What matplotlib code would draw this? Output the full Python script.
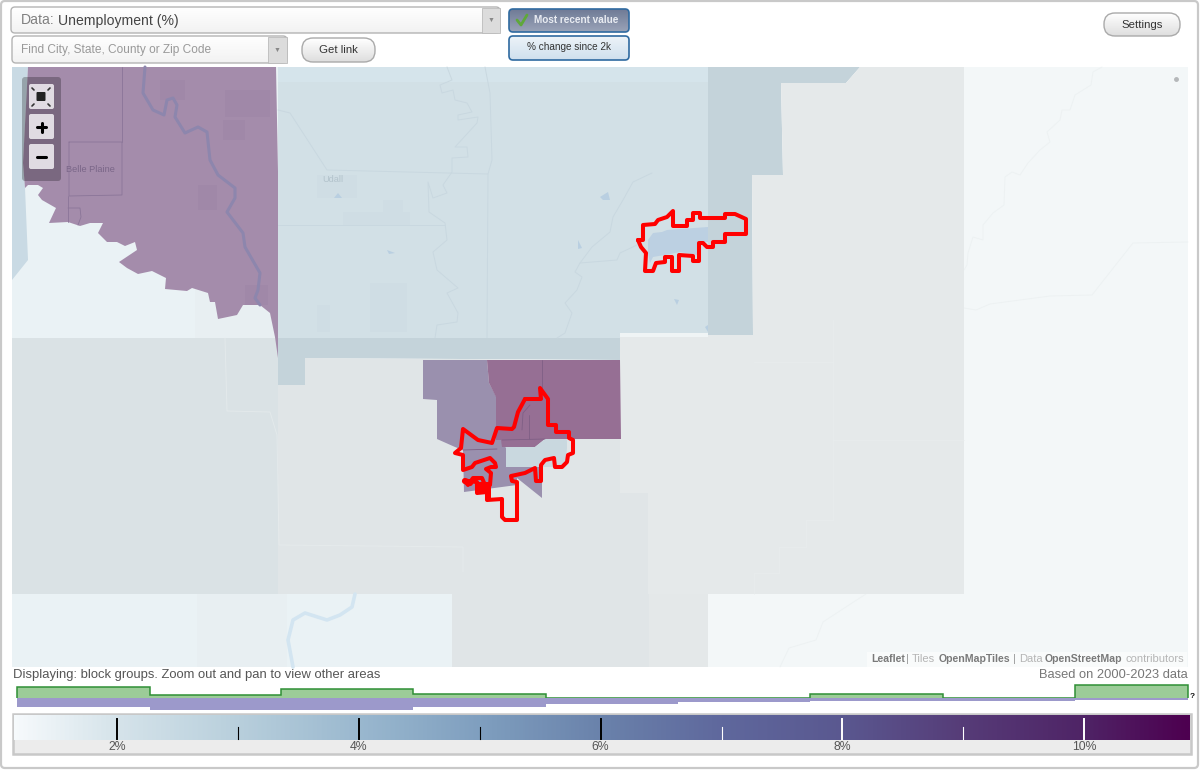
import numpy as np
import matplotlib
matplotlib.use('Agg')
import matplotlib.pyplot as plt
from matplotlib.colors import LinearSegmentedColormap
from matplotlib.patches import FancyBboxPatch, Rectangle

plt.rcParams['font.family'] = ['Liberation Sans', 'DejaVu Sans']

# histogram under the map, and the colour scale (values in %)
bin_edges = [1.17, 2.27, 3.36, 4.45, 5.55, 6.64, 7.73, 8.83, 9.92, 10.86]
green_vals = [11.3, 3.3, 9.3, 3.7, 0.0, 0.3, 3.7, 0.3, 12.7]
purple_vals = [9.0, 12.0, 12.0, 9.0, 5.5, 4.0, 3.3, 3.0, 1.7]
major_ticks = [2, 4, 6, 8, 10]
major_labels = ['2%', '4%', '6%', '8%', '10%']
minor_ticks = [3, 5, 7, 9]
scale_stops = [1.15, 2, 3, 4, 5, 6, 7, 8, 9, 10, 10.87]
scale_colors = ['#f6fafc', '#d5e3ea', '#b8cfdc', '#9ab8cf', '#7f9fbf', '#6a82ab',
                '#5f689d', '#5a5890', '#563c78', '#4f2466', '#4d0050']

# map areas
left_water = [(12,67),(28,67),(23,163),(25,188),(28,260),(12,280)]
purple_area = [(28,67),(276,67),(278,172),(278,313),(278,358),(275,337),(270,313),(260,305),(243,305),
               (237,315),(218,319),(215,302),(210,302),(208,293),(192,288),(187,291),(165,289),(166,278),
               (152,271),(138,274),(127,268),(119,262),(137,250),(135,242),(125,246),(117,242),(107,242),
               (98,233),(103,223),(90,223),(80,226),(68,222),(49,223),(56,208),(42,200),(38,195),(43,188),
               (38,185),(28,185),(25,188),(23,163)]
blue_area = [(278,82),(708,82),(708,338),(278,338)]
blue_top = [(278,67),(708,67),(708,82),(278,82)]
blue_right = [(708,67),(860,67),(846,83),(781,83),(783,175),(752,175),(753,335),(708,335)]
blue_band = [(278,338),(620,338),(620,360),(305,358),(305,385),(278,385)]
grey_left = [(12,338),(278,338),(278,594),(12,594)]
grey_mid = [(278,385),(305,385),(305,358),(620,360),(620,493),(648,493),(648,594),(278,594)]
grey_right = [(620,335),(753,335),(752,175),(783,175),(781,83),(846,83),(860,67),(964,67),(964,594),
              (648,594),(648,493),(620,493)]
grey_bottom = [(452,594),(649,594),(649,667),(452,667)]
grey_bottom2 = [(649,594),(708,594),(708,667),(649,667)]
white_strip = [(620,333),(708,333),(708,337),(620,337)]
right_land = [(964,67),(1188,67),(1188,667),(708,667),(708,594),(964,594)]
town_purple = [(423,360),(487,360),(489,383),(497,398),(501,440),(506,448),(506,467),(542,467),(542,498),
               (517,478),(517,485),(464,492),(463,450),(455,447),(437,439),(437,400),(423,399)]
town_dark = [(487,360),(620,360),(621,439),(545,439),(535,447),(502,447),(501,440),(496,440),(496,397),(489,383)]
town_light = [(506,447),(535,447),(545,439),(567,439),(567,448),(565,467),(506,467)]
lake = [(648,240),(653,233),(662,232),(667,230),(708,227),(708,242),(698,242),(698,255),(680,252),(670,254),
        (653,257),(650,263),(648,253)]
ponds = [[(600,197),(608,192),(610,200),(603,200)], [(578,240),(582,248),(578,249)],
         [(674,299),(679,300),(677,305)], [(387,250),(395,253),(389,254)],
         [(338,193),(342,198),(334,198)], [(705,327),(708,325),(708,332)]]
blue_blocks = [[(370,283),(407,283),(407,332),(370,332)], [(343,212),(410,212),(410,225),(343,225)],
               [(383,200),(403,200),(403,212),(383,212)], [(317,175),(357,175),(357,198),(317,198)],
               [(317,305),(330,305),(330,332),(317,332)]]
purple_blocks = [[(198,185),(217,185),(217,210),(198,210)], [(223,120),(245,120),(245,140),(223,140)],
                 [(225,90),(270,90),(270,117),(225,117)], [(160,80),(185,80),(185,100),(160,100)],
                 [(245,285),(268,285),(268,305),(245,305)]]

# rivers and roads
purple_river = [(145,67),(143,93),(153,110),(164,115),(167,100),(173,98),(177,105),(175,117),(185,133),(198,127),
                (207,132),(210,160),(218,175),(235,188),(235,198),(227,212),(243,233),(245,247),(260,273),
                (258,290),(255,298),(260,305)]
south_river = [(355,594),(352,607),(340,615),(327,620),(305,613),(293,620),(288,640),(293,667)]
blue_lines = [[(278,110),(290,113),(303,133),(327,170),(488,174)],
              [(485,67),(490,93),(492,160),(488,174),(487,338)],
              [(278,225),(445,225)],
              [(447,67),(452,80),(440,85),(442,93),(453,90),(455,100),(467,103),(472,112),(458,115),(458,120),
               (478,117),(477,123),(455,147),(467,147),(468,157),(452,158),(452,172),(443,185),(447,193),(433,198),
               (428,182),(429,212),(445,223),(447,240),(433,252),(437,270),(458,288),(447,293),(458,313),(457,322),
               (437,325),(435,338)],
              [(652,173),(633,182),(623,200),(613,217),(610,232),(592,247),(580,263),(575,272),(582,277),(577,290),
               (565,303),(572,313),(565,333),(557,338)],
              [(637,245),(620,253),(617,260),(580,263)]]
pale_lines = [[(1102,67),(1093,72),(1091,85),(1075,95),(1070,110),(1062,110),(1060,120),(1047,132),(1050,142),
               (1040,150),(1028,163),(1020,175),(1012,172),(1005,177),(1004,205),(993,213),(983,225),(983,240),
               (973,237),(968,253),(967,265),(964,270)],
              [(964,308),(976,310),(990,304),(1050,296),(1092,295),(1133,243),(1188,242)],
              [(866,594),(852,603),(823,622),(816,640),(789,648),(780,667)],
              [(833,320),(833,520),(806,520),(806,547),(779,547),(779,573),(754,573),(754,594)],
              [(833,440),(964,440)], [(754,362),(833,362)],
              [(225,338),(227,411),(270,412),(277,435),(279,545),(463,547),(463,572)]]
plaine_lines = [[(69,142),(122,142),(122,195),(69,196),(69,142)], [(122,67),(122,142)],
                [(68,196),(68,222)], [(68,208),(80,208),(81,217),(78,225)]]
town_lines = [[(542,360),(542,388)], [(530,405),(523,413),(522,430)], [(529,415),(529,439)], [(502,440),(545,439)],
              [(463,450),(497,449)]]

# city outlines
north_city = [(638,240),(643,240),(643,225),(655,224),(658,220),(667,217),(673,211),(673,226),(687,226),(687,220),
              (693,220),(693,213),(700,213),(700,218),(725,218),(725,214),(735,214),(746,219),(746,234),(725,234),
              (725,242),(713,242),(713,247),(707,247),(703,243),(699,243),(699,261),(693,261),(693,256),(679,255),
              (679,271),(672,271),(672,257),(665,257),(665,262),(656,263),(653,271),(645,271),(646,253),(641,247),
              (638,240)]
south_city = [(525,399),(541,399),(540,388),(548,399),(548,425),(556,425),(556,432),(569,432),(569,438),(573,440),
              (573,453),(568,455),(567,462),(562,467),(555,467),(554,458),(545,460),(541,465),(541,481),(536,481),
              (535,468),(525,473),(511,476),(512,481),(517,482),(517,520),(505,520),(502,517),(502,499),(487,500),
              (487,492),(477,493),(477,482),(465,481),(468,485),(473,478),(482,478),(485,485),(490,485),(491,473),
              (486,469),(491,467),(496,467),(495,463),(490,458),(475,463),(472,467),(463,470),(463,455),(455,453),
              (461,448),(463,429),(478,440),(492,443),(497,428),(512,429),(514,427),(518,412),(525,399)]
city_blob = [(477,482),(491,482),(491,500),(487,500),(487,494),(477,493)]


def area(points, color, z=1):
    xs, ys = zip(*points)
    ax.fill(xs, ys, color=color, lw=0, zorder=z)


def path(points, color, w, z=2, alpha=1):
    xs, ys = zip(*points)
    ax.plot(xs, ys, color=color, lw=w, zorder=z, alpha=alpha, solid_joinstyle='round', solid_capstyle='round')


def button(x0, y0, x1, y1, top, bottom, edge, r, z=5, w=1.0):
    box = FancyBboxPatch((x0 + r, y0 + r), x1 - x0 - 2 * r, y1 - y0 - 2 * r, boxstyle='round,pad=%g' % r,
                         fc='none', ec=edge, lw=w, zorder=z + 1)
    ax.add_patch(box)
    cmap = LinearSegmentedColormap.from_list('b', [top, bottom])
    im = ax.imshow(np.linspace(0, 1, 32)[:, None], extent=[x0, x1, y1, y0], cmap=cmap, aspect='auto', zorder=z)
    im.set_clip_path(box)


def label(x, y, s, size, color, ha='left', weight='normal', z=8):
    ax.text(x, y, s, fontsize=size, color=color, ha=ha, va='center', fontweight=weight, zorder=z)


fig = plt.figure(figsize=(12, 7.71), dpi=100, facecolor='white')
ax = fig.add_axes([0, 0, 1, 1])

# outer frame
ax.add_patch(FancyBboxPatch((5, 5), 1189, 759, boxstyle='round,pad=4', fc='white', ec='#c9c9c9', lw=1.6, zorder=0))

# base map
ax.add_patch(Rectangle((12, 67), 440, 600, fc='#eaf2f5', lw=0, zorder=1))
ax.add_patch(Rectangle((195, 280), 83, 58, fc='#e8eff2', lw=0, zorder=1))
ax.add_patch(Rectangle((197, 594), 90, 73, fc='#e8eff2', lw=0, zorder=1))
area(right_land, '#f3f7f8')
area(left_water, '#c9dae4', 2)
area(blue_top, '#d5e4eb', 2)
area(blue_area, '#d2e0e6', 2)
area(blue_right, '#c4d3da', 2)
area(blue_band, '#c4d3da', 2)
area(grey_left, '#dae2e5', 2)
area(grey_mid, '#e0e5e7', 2)
area(grey_right, '#e5e9ea', 2)
area(grey_bottom, '#e0e5e7', 2)
area(grey_bottom2, '#e4e8e9', 2)
area(white_strip, '#eff4f5', 2)
for block in blue_blocks:
    area(block, '#cfdde4', 2)
for line in blue_lines:
    path(line, '#c9d8e0', 0.7, 3)
for line in pale_lines:
    path(line, '#e9eeef', 0.7, 3, alpha=0.6)
for pond in ponds:
    area(pond, '#b9cfe1', 3)
path(south_river, '#d3e5f1', 2.6, 3)

# block groups
area(purple_area, '#a48cab', 4)
for block in purple_blocks:
    area(block, '#a088a8', 4)
path(purple_river, '#8d86ad', 2.2, 4)
for line in plaine_lines:
    path(line, '#8a7598', 0.6, 4)
area(town_purple, '#9a90ae', 4)
area(town_dark, '#966f94', 4)
area(town_light, '#c9d8df', 4)
for line in town_lines:
    path(line, '#7f5f85', 0.6, 4)
area(lake, '#bcd0e2', 4)
label(90, 169, 'Belle Plaine', 6.6, '#7a6688', 'center', z=4)
label(333, 180, 'Udall', 6.6, '#b3c3cc', 'center', z=3)

# city outlines
path(north_city, '#ff0000', 2.9, 4.5)
path(south_city, '#ff0000', 2.9, 4.5)
area(city_blob, '#ff0000', 4.5)
path([(465, 481), (470, 483)], '#ff0000', 4.5, 4.5)
ax.plot([1176], [79], 'o', ms=2.5, color='#b5b8ba', zorder=4)

# zoom controls
ax.add_patch(FancyBboxPatch((25, 80), 33, 98, boxstyle='round,pad=3', fc='black', alpha=0.25, lw=0, zorder=5))
for y0 in [84, 114, 144]:
    ax.add_patch(FancyBboxPatch((31, y0 + 2), 21, 21, boxstyle='round,pad=2', fc='#e0dbe2', lw=0, zorder=6))
ax.add_patch(FancyBboxPatch((37.5, 93), 7, 7, boxstyle='round,pad=1', fc='#222222', lw=0, zorder=7))
for dx, dy in [(-1, -1), (1, -1), (-1, 1), (1, 1)]:
    path([(41 + 7 * dx, 97 + 7 * dy), (41 + 9 * dx, 97 + 9 * dy)], '#333333', 1.2, 7)
path([(37, 127), (46, 127)], 'black', 2.2, 7)
path([(41.5, 122.5), (41.5, 131.5)], 'black', 2.2, 7)
path([(37, 157), (46, 157)], 'black', 2.2, 7)

# attribution
ax.add_patch(Rectangle((867, 652), 320, 15, fc='#f9fbfb', lw=0, zorder=5))
attrib = [(871, 'Leaflet', '#7a7a7a'), (906, '|', '#999999'), (912, 'Tiles', '#b5b5b5'),
          (939, 'OpenMapTiles', '#7a7a7a'), (1013, '|', '#999999'), (1019, 'Data', '#b5b5b5'),
          (1045, 'OpenStreetMap', '#7a7a7a'), (1126, 'contributors', '#b5b5b5')]
for x, s, c in attrib:
    label(x, 659.5, s, 7.6 if c == '#7a7a7a' else 8.0, c, weight='bold' if c == '#7a7a7a' else 'normal')

# top controls
button(11, 7, 500, 33, '#ffffff', '#f2f2f2', '#b4b4b4', 4)
ax.add_patch(Rectangle((482, 8), 17.5, 24.5, fc='#dcdcdc', ec='#bbbbbb', lw=0.6, zorder=7))
label(491, 20, '\u25bc', 5, '#888888', 'center')
label(21, 20.5, 'Data:', 10.1, '#808080')
label(58, 20.5, 'Unemployment (%)', 10.1, '#444444')
button(12, 36, 287, 63, '#ffffff', '#f2f2f2', '#b4b4b4', 4)
ax.add_patch(Rectangle((268, 37), 18.5, 25.5, fc='#dcdcdc', ec='#bbbbbb', lw=0.6, zorder=7))
label(277, 50, '\u25bc', 5, '#888888', 'center')
label(21, 49.5, 'Find City, State, County or Zip Code', 8.6, '#999999')
button(302, 38, 375, 62, '#ffffff', '#dedede', '#aaaaaa', 11)
label(338.5, 50, 'Get link', 8.2, '#333333', 'center')
button(509, 9, 629, 32, '#6f7b96', '#9aa3b8', '#2f6aa0', 4, w=1.2)
label(576.5, 20, 'Most recent value', 7.2, '#e9ecf2', 'center', weight='bold')
ax.plot([517, 521, 527], [20, 25, 15], color='#5fa83a', lw=2.0, zorder=8, solid_capstyle='round')
button(509, 36, 629, 60, '#edf3f8', '#cfe0ee', '#2f6aa0', 4, w=1.2)
label(569, 47, '% change since 2k', 7.2, '#333333', 'center')
button(1104, 13, 1180, 36, '#ffffff', '#dedede', '#aaaaaa', 11)
label(1142, 24.5, 'Settings', 8.2, '#333333', 'center')

# notes and colour scale frame
label(13, 675, 'Displaying: block groups. Zoom out and pan to view other areas', 9.33, '#555555')
label(1188, 675, 'Based on 2000-2023 data', 9.25, '#777777', 'right')
label(1190, 696.5, '?', 6, '#111111', weight='bold')
ax.add_patch(Rectangle((13, 714), 1178, 40, fc='#ececec', ec='#c8c8c8', lw=1.8, zorder=1))

ax.set_xlim(0, 1200)
ax.set_ylim(771, 0)
ax.axis('off')

# the histogram and the colour scale share a percent x axis, 120.9 px per 1%
vmin, vmax = 1.148, 10.875
hist_ax = fig.add_axes([14 / 1200, 1 - 712 / 771, 1176 / 1200, 30 / 771])
hist_ax.stairs(green_vals, bin_edges, baseline=0, fill=True, color='#9ccc98', lw=0)
hist_ax.stairs(green_vals, bin_edges, baseline=0, color='#2f8f36', lw=1.1)
hist_ax.stairs(-np.array(purple_vals), bin_edges, baseline=0, fill=True, color='#9c99cb', lw=0)
hist_ax.set_xlim(vmin, vmax)
hist_ax.set_ylim(-14, 16)
hist_ax.axis('off')

scale_ax = fig.add_axes([14 / 1200, 1 - 752 / 771, 1176 / 1200, 37 / 771])
norm_stops = (np.array(scale_stops) - scale_stops[0]) / (scale_stops[-1] - scale_stops[0])
scale_map = LinearSegmentedColormap.from_list('scale', list(zip(norm_stops, scale_colors)))
scale_ax.imshow(np.linspace(0, 1, 512)[None, :], extent=[vmin, vmax, 12, 37], cmap=scale_map, aspect='auto')
for t, s in zip(major_ticks, major_labels):
    scale_ax.plot([t, t], [13, 33], color='black' if t < 7 else 'white', lw=1.4)
    scale_ax.text(t, 5, s, fontsize=8.8, color='#555555', ha='center', va='center')
for t in minor_ticks:
    scale_ax.plot([t, t], [13, 25.5], color='black' if t < 7 else 'white', lw=0.8)
scale_ax.set_xlim(vmin, vmax)
scale_ax.set_ylim(0, 37)
scale_ax.axis('off')

fig.savefig('out.png', dpi=100)
